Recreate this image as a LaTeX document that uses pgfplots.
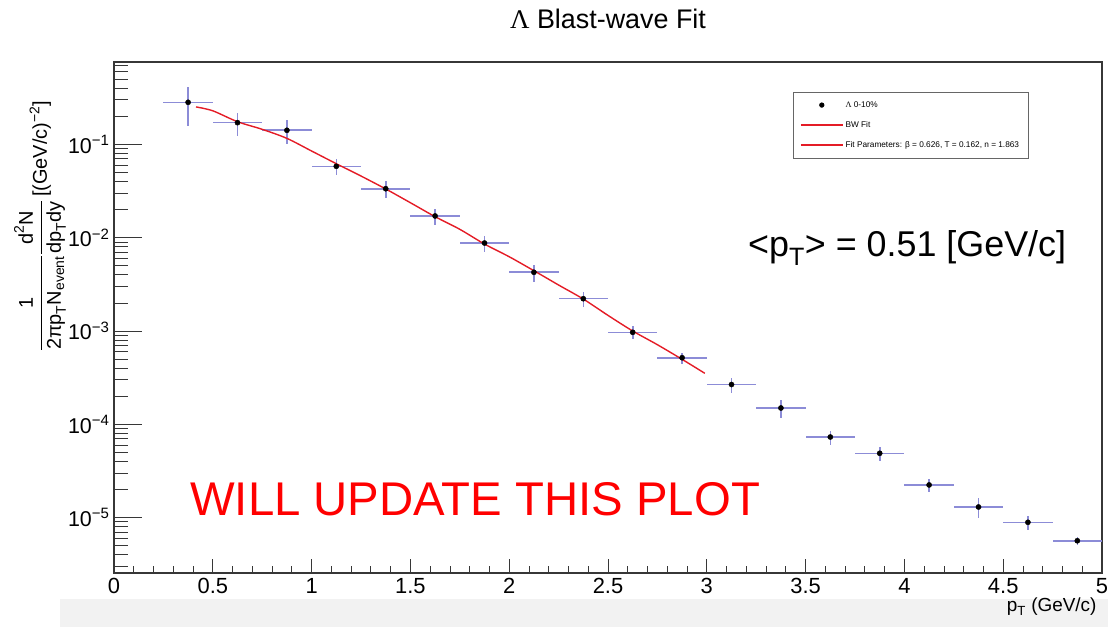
\documentclass[border=0pt]{standalone}
\usepackage{pgfplots}
\pgfplotsset{compat=1.18}
\usepackage{pgfplotstable}
\usepackage{amsmath}
\usepackage{fontspec}
\setmainfont{Liberation Sans}
\newfontfamily\serifgreek{Liberation Serif}
\definecolor{errblue}{RGB}{140,140,215}
\definecolor{fitred}{RGB}{228,28,38}
\definecolor{axgray}{RGB}{55,55,55}

\pgfplotstableread{
x y ex ey
0.375 0.2825 0.125 0.126
0.625 0.171 0.125 0.047
0.875 0.1416 0.125 0.041
1.125 0.0582 0.125 0.011
1.375 0.0335 0.125 0.0068
1.625 0.0171 0.125 0.0033
1.875 0.00877 0.125 0.0017
2.125 0.00426 0.125 0.00087
2.375 0.00222 0.125 0.00039
2.625 0.000968 0.125 0.00015
2.875 0.000517 0.125 0.00007
3.125 0.000267 0.125 0.000049
3.375 0.0001496 0.125 0.000034
3.625 0.0000731 0.125 0.0000125
3.875 0.0000489 0.125 0.0000085
4.125 0.0000224 0.125 0.0000038
4.375 0.0000130 0.125 0.0000031
4.625 0.00000891 0.125 0.0000016
4.875 0.00000565 0.125 0.0000006
}\datatable

\pgfplotstableread{
x y
0.415 0.252
0.5 0.229
0.625 0.175
0.75 0.145
0.875 0.116
1.0 0.0849
1.125 0.0621
1.25 0.0458
1.375 0.0333
1.5 0.0237
1.625 0.0168
1.75 0.0123
1.875 0.00855
2.0 0.00625
2.125 0.00443
2.25 0.00311
2.375 0.0022
2.5 0.00147
2.625 0.00100
2.75 0.000713
2.875 0.000497
2.99 0.000352
}\fittable

\begin{document}
\begin{tikzpicture}[x=1bp,y=1bp]
\useasboundingbox (0,0) rectangle (1108,627);
\fill[black!5] (60,0) rectangle (1108,28);

% y-axis ticks and labels (longer ticks)
\begin{axis}[
  at={(114bp,54bp)}, anchor=south west, scale only axis,
  width=988bp, height=511bp,
  xmin=0, xmax=5, ymode=log, ymin=2.55e-6, ymax=0.764,
  axis line style={axgray, line width=1.3bp},
  xtick=\empty,
  ytick={1e-5,1e-4,1e-3,1e-2,1e-1},
  yticklabels={10\textsuperscript{−5},10\textsuperscript{−4},10\textsuperscript{−3},10\textsuperscript{−2},10\textsuperscript{−1}},
  minor ytick={3e-6,4e-6,5e-6,6e-6,7e-6,8e-6,9e-6,
    2e-5,3e-5,4e-5,5e-5,6e-5,7e-5,8e-5,9e-5,
    2e-4,3e-4,4e-4,5e-4,6e-4,7e-4,8e-4,9e-4,
    2e-3,3e-3,4e-3,5e-3,6e-3,7e-3,8e-3,9e-3,
    2e-2,3e-2,4e-2,5e-2,6e-2,7e-2,8e-2,9e-2,
    2e-1,3e-1,4e-1,5e-1,6e-1,7e-1},
  ytick pos=left, tick align=inside,
  major tick length=28bp, minor tick length=14bp,
  tick style={axgray, line width=0.8bp},
  yticklabel style={font=\fontsize{21.5}{24}\selectfont, xshift=-1bp},
]
\end{axis}

\begin{axis}[
  at={(114bp,54bp)}, anchor=south west, scale only axis,
  width=988bp, height=511bp,
  xmin=0, xmax=5, ymode=log, ymin=2.55e-6, ymax=0.764,
  axis line style={axgray, line width=1.3bp},
  xtick={0,0.5,1,1.5,2,2.5,3,3.5,4,4.5,5},
  xticklabels={0,0.5,1,1.5,2,2.5,3,3.5,4,4.5,5},
  minor x tick num=4,
  ytick=\empty, yminorticks=false,
  xtick pos=bottom, tick align=inside,
  major tick length=14bp, minor tick length=7bp,
  tick style={axgray, line width=0.8bp},
  xticklabel style={font=\fontsize{22}{24}\selectfont, yshift=-2bp},
  legend style={at={(0.687,0.941)}, anchor=north west,
    draw=black!60, line width=0.6bp,
    font=\fontsize{8.3}{10}\selectfont,
    inner xsep=7bp, inner ysep=7bp, row sep=8.6bp,
    /tikz/every even column/.append style={column sep=4bp}},
  legend cell align=left,
]
\addplot[only marks, mark=*, mark size=2.6bp, black, forget plot,
  error bars/.cd, x dir=both, x explicit, y dir=both, y explicit,
  error mark=none,
  error bar style={errblue, line width=1.6bp}]
  table[x=x, y=y, x error=ex, y error=ey] {\datatable};

\addlegendimage{black, legend image code/.code={\path[draw=none] (0bp,0bp) -- (42bp,0bp); \fill[black] (21bp,0bp) circle (2.3bp);}}
\addlegendentry{{\serifgreek Λ} 0-10\%}

\addplot[fitred, line width=1.4bp, smooth, no marks,
  legend image code/.code={\draw[fitred, line width=1.5bp] (0bp,0bp) -- (42bp,0bp);}]
  table[x=x, y=y] {\fittable};
\addlegendentry{BW Fit}

\addlegendimage{fitred, legend image code/.code={\draw[fitred, line width=1.5bp] (0bp,0bp) -- (42bp,0bp);}}
\addlegendentry{Fit Parameters: β = 0.626, T = 0.162, n = 1.863}
\end{axis}

% Title
\node[anchor=base, font=\fontsize{27}{30}\selectfont] at (608,598) {{\serifgreek Λ} Blast-wave Fit};

% y label
\node[rotate=90, font=\fontsize{20}{24}\selectfont] at (40,401)
 {$\dfrac{\text{1}}{\text{2πp}_{\text{T}}\text{N}_{\text{event}}}\dfrac{\text{d}^{\text{2}}\text{N}}{\text{dp}_{\text{T}}\text{dy}}$\,[(GeV/c)\textsuperscript{−2}]};

% x label
\node[anchor=base east, font=\fontsize{19}{22}\selectfont] at (1100,15) {p\textsubscript{T} (GeV/c)};

% annotations
\node[anchor=base west, inner sep=0pt, font=\fontsize{36}{40}\selectfont] at (748,370) {<p\textsubscript{T}> = 0.51 [GeV/c]};
\node[anchor=base west, inner sep=0pt, text=red, font=\fontsize{47.5}{52}\selectfont] at (190,111) {WILL UPDATE THIS PLOT};
\end{tikzpicture}
\end{document}
